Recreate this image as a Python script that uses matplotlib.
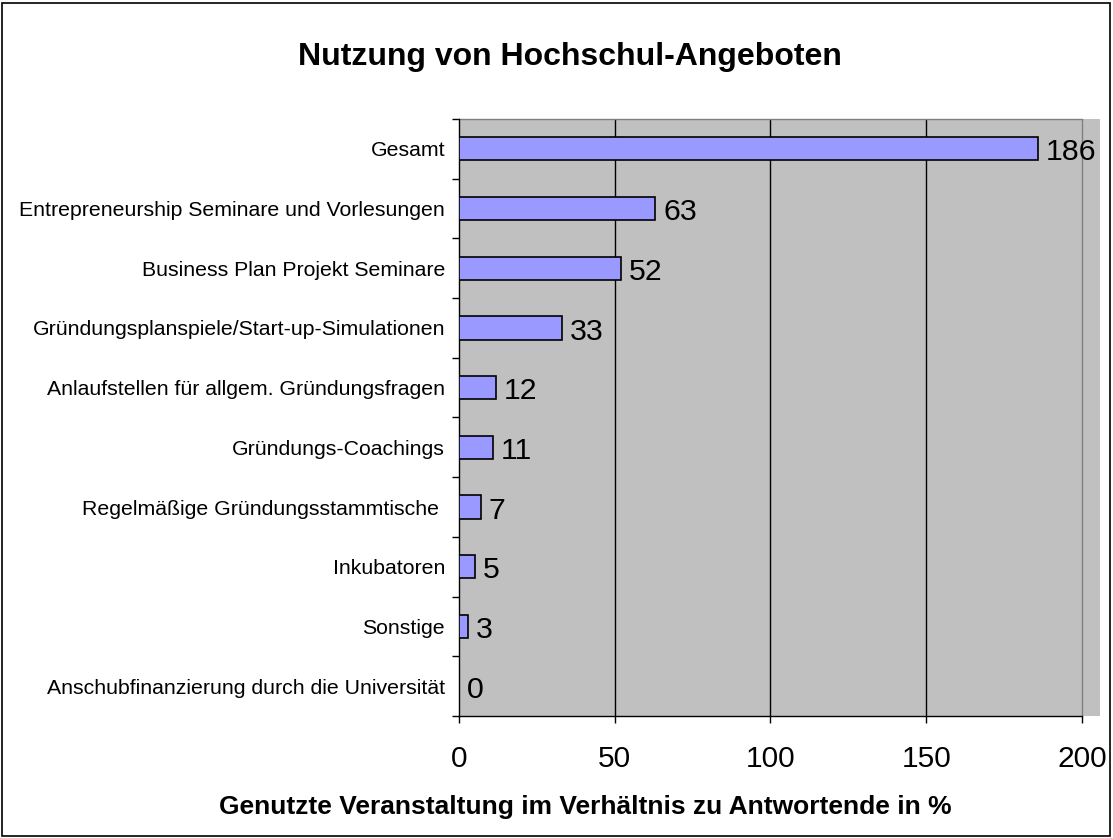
import matplotlib.pyplot as plt
from matplotlib.patches import Rectangle

categories = [
    'Gesamt',
    'Entrepreneurship Seminare und Vorlesungen',
    'Business Plan Projekt Seminare',
    'Gründungsplanspiele/Start-up-Simulationen',
    'Anlaufstellen für allgem. Gründungsfragen',
    'Gründungs-Coachings',
    'Regelmäßige Gründungsstammtische ',
    'Inkubatoren',
    'Sonstige',
    'Anschubfinanzierung durch die Universität',
]
values = [186, 63, 52, 33, 12, 11, 7, 5, 3, 0]
xticks = [0, 50, 100, 150, 200]

plt.rcParams['font.family'] = ['Liberation Sans', 'DejaVu Sans']

fig = plt.figure(figsize=(11.13, 8.38), dpi=100)
fig.patches.append(Rectangle((0.002, 0.002), 0.995, 0.995, transform=fig.transFigure,
                             fill=False, edgecolor='black', linewidth=1.2))

ax = fig.add_axes([0.4124, 0.1456, 0.5759, 0.7124])
ax.set_facecolor('#C0C0C0')

n = len(categories)
ypos = list(range(n))
ax.barh(ypos, values, height=0.39, color='#9999FF', edgecolor='black', linewidth=1.2, zorder=3)
for y, v in zip(ypos, values):
    ax.text(v + 2.5, y + 0.06, str(v), ha='left', va='center', fontsize=21.8, zorder=4)

ax.set_ylim(n - 0.5, -0.5)
ax.set_xlim(0, 205.8)
ax.set_xticks(xticks)
ax.set_xticklabels([str(t) for t in xticks], fontsize=21.5)
ax.tick_params(axis='x', length=5, width=1, pad=16, direction='out')
for t in xticks[1:]:
    ax.axvline(t, color='black' if t < 200 else '#808080', linewidth=1, zorder=1)

ax.set_yticks([y - 0.5 for y in range(n + 1)])
ax.set_yticklabels([])
ax.set_yticks(ypos, minor=True)
ax.set_yticklabels(categories, minor=True, fontsize=15.3)
ax.tick_params(axis='y', which='major', length=5, width=1, direction='out')
ax.tick_params(axis='y', which='minor', length=0, pad=10)

for s in ['top', 'right']:
    ax.spines[s].set_visible(False)
ax.spines['bottom'].set_bounds(0, 200)
ax.spines['left'].set_linewidth(1)
ax.spines['bottom'].set_linewidth(1)
ax.plot([0, 200], [-0.5, -0.5], color='#808080', linewidth=1, zorder=2, clip_on=False)

fig.text(0.512, 0.932, 'Nutzung von Hochschul-Angeboten', ha='center', va='center',
         fontsize=23, fontweight='bold')
fig.text(0.526, 0.037, 'Genutzte Veranstaltung im Verhältnis zu Antwortende in %',
         ha='center', va='center', fontsize=19, fontweight='bold')

fig.savefig('out.png', dpi=100)
